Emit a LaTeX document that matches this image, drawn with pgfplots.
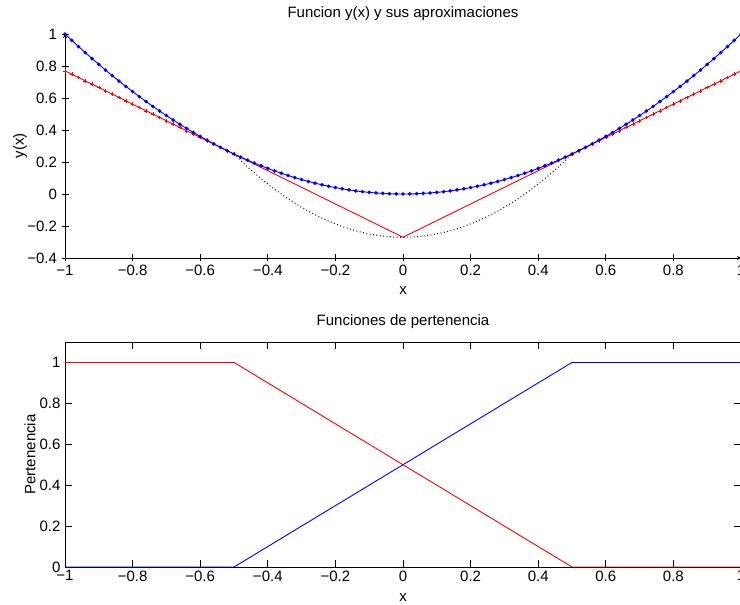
\documentclass[border=0pt]{standalone}
\usepackage{fontspec}
\setmainfont{Liberation Sans}
\usepackage{pgfplots}
\pgfplotsset{compat=1.18}
\usepackage{pgfplotstable}

% y(x) = x^2 sampled every 0.02
\pgfplotstableread{
x y
-1.00 1.0000
-0.98 0.9604
-0.96 0.9216
-0.94 0.8836
-0.92 0.8464
-0.90 0.8100
-0.88 0.7744
-0.86 0.7396
-0.84 0.7056
-0.82 0.6724
-0.80 0.6400
-0.78 0.6084
-0.76 0.5776
-0.74 0.5476
-0.72 0.5184
-0.70 0.4900
-0.68 0.4624
-0.66 0.4356
-0.64 0.4096
-0.62 0.3844
-0.60 0.3600
-0.58 0.3364
-0.56 0.3136
-0.54 0.2916
-0.52 0.2704
-0.50 0.2500
-0.48 0.2304
-0.46 0.2116
-0.44 0.1936
-0.42 0.1764
-0.40 0.1600
-0.38 0.1444
-0.36 0.1296
-0.34 0.1156
-0.32 0.1024
-0.30 0.0900
-0.28 0.0784
-0.26 0.0676
-0.24 0.0576
-0.22 0.0484
-0.20 0.0400
-0.18 0.0324
-0.16 0.0256
-0.14 0.0196
-0.12 0.0144
-0.10 0.0100
-0.08 0.0064
-0.06 0.0036
-0.04 0.0016
-0.02 0.0004
0.00 0.0000
0.02 0.0004
0.04 0.0016
0.06 0.0036
0.08 0.0064
0.10 0.0100
0.12 0.0144
0.14 0.0196
0.16 0.0256
0.18 0.0324
0.20 0.0400
0.22 0.0484
0.24 0.0576
0.26 0.0676
0.28 0.0784
0.30 0.0900
0.32 0.1024
0.34 0.1156
0.36 0.1296
0.38 0.1444
0.40 0.1600
0.42 0.1764
0.44 0.1936
0.46 0.2116
0.48 0.2304
0.50 0.2500
0.52 0.2704
0.54 0.2916
0.56 0.3136
0.58 0.3364
0.60 0.3600
0.62 0.3844
0.64 0.4096
0.66 0.4356
0.68 0.4624
0.70 0.4900
0.72 0.5184
0.74 0.5476
0.76 0.5776
0.78 0.6084
0.80 0.6400
0.82 0.6724
0.84 0.7056
0.86 0.7396
0.88 0.7744
0.90 0.8100
0.92 0.8464
0.94 0.8836
0.96 0.9216
0.98 0.9604
1.00 1.0000
}\curvedata

% local linear models (left part)
\pgfplotstableread{
x y
-1.00 0.7696
-0.98 0.7488
-0.96 0.7280
-0.94 0.7072
-0.92 0.6864
-0.90 0.6656
-0.88 0.6448
-0.86 0.6240
-0.84 0.6032
-0.82 0.5824
-0.80 0.5616
-0.78 0.5408
-0.76 0.5200
-0.74 0.4992
-0.72 0.4784
-0.70 0.4576
-0.68 0.4368
-0.66 0.4160
-0.64 0.3952
-0.62 0.3744
-0.60 0.3536
-0.58 0.3328
-0.56 0.3120
-0.54 0.2912
-0.52 0.2704
-0.50 0.2496
}\redleft

\pgfplotstableread{
x y
0.50 0.2496
0.52 0.2704
0.54 0.2912
0.56 0.3120
0.58 0.3328
0.60 0.3536
0.62 0.3744
0.64 0.3952
0.66 0.4160
0.68 0.4368
0.70 0.4576
0.72 0.4784
0.74 0.4992
0.76 0.5200
0.78 0.5408
0.80 0.5616
0.82 0.5824
0.84 0.6032
0.86 0.6240
0.88 0.6448
0.90 0.6656
0.92 0.6864
0.94 0.7072
0.96 0.7280
0.98 0.7488
1.00 0.7696
}\redright

% fuzzy combination in the blending zone
\pgfplotstableread{
x y
-0.50 0.2496
-0.48 0.2088
-0.46 0.1697
-0.44 0.1323
-0.42 0.0965
-0.40 0.0624
-0.38 0.0300
-0.36 -0.0008
-0.34 -0.0300
-0.32 -0.0574
-0.30 -0.0832
-0.28 -0.1073
-0.26 -0.1298
-0.24 -0.1506
-0.22 -0.1697
-0.20 -0.1872
-0.18 -0.2030
-0.16 -0.2172
-0.14 -0.2296
-0.12 -0.2404
-0.10 -0.2496
-0.08 -0.2571
-0.06 -0.2629
-0.04 -0.2671
-0.02 -0.2696
0.00 -0.2704
0.02 -0.2696
0.04 -0.2671
0.06 -0.2629
0.08 -0.2571
0.10 -0.2496
0.12 -0.2404
0.14 -0.2296
0.16 -0.2172
0.18 -0.2030
0.20 -0.1872
0.22 -0.1697
0.24 -0.1506
0.26 -0.1298
0.28 -0.1073
0.30 -0.0832
0.32 -0.0574
0.34 -0.0300
0.36 -0.0008
0.38 0.0300
0.40 0.0624
0.42 0.0965
0.44 0.1323
0.46 0.1697
0.48 0.2088
0.50 0.2496
}\fuzzydata

\begin{document}
\begin{tikzpicture}
\pgfplotsset{
  mstyle/.style={
    scale only axis,
    width=676pt,
    xmin=-1, xmax=1,
    font=\fontsize{15}{18}\selectfont,
    tick label style={font=\fontsize{15}{18}\selectfont},
    /pgf/number format/assume math mode=true,
    axis line style={-, line width=0.8pt, black},
    major tick style={line width=0.8pt, black},
    major tick length=7pt,
    tick align=inside,
    clip=false,
    xtick={-1,-0.8,-0.6,-0.4,-0.2,0,0.2,0.4,0.6,0.8,1},
    xticklabels={−1,−0.8,−0.6,−0.4,−0.2,0,0.2,0.4,0.6,0.8,1},
    title style={at={(0.5,1)}, anchor=south, yshift=4pt},
    yticklabel style={xshift=-1pt},
  }
}
\begin{axis}[mstyle,
  at={(65pt,347pt)}, anchor=south west,
  height=224pt,
  ymin=-0.4, ymax=1,
  axis x line=bottom, axis y line=left,
  ytick={-0.4,-0.2,0,0.2,0.4,0.6,0.8,1},
  yticklabels={−0.4,−0.2,0,0.2,0.4,0.6,0.8,1},
  title={Funcion y(x) y sus aproximaciones},
  xlabel={x}, xlabel style={at={(axis description cs:0.5,-0.1473)}, anchor=center},
  ylabel={y(x)}, ylabel style={at={(axis description cs:-0.0666,0.5)}, anchor=center},
]
\addplot[red, line width=0.9pt, mark=+, mark size=1.8pt, mark options={line width=0.5pt}] table {\redleft};
\addplot[red, line width=0.9pt, mark=+, mark size=1.8pt, mark options={line width=0.5pt}] table {\redright};
\addplot[red, line width=0.9pt] coordinates {(-0.5,0.2496) (0,-0.2704) (0.5,0.2496)};
\addplot[black, line width=1.1pt, dash pattern=on 0.8pt off 2.6pt] table {\fuzzydata};
\addplot[blue, line width=0.9pt, mark=*, mark size=1.35pt] table {\curvedata};
\end{axis}

\begin{axis}[mstyle,
  at={(65pt,38pt)}, anchor=south west,
  height=225pt,
  ymin=0, ymax=1.1,
  ytick={0,0.2,0.4,0.6,0.8,1},
  yticklabels={0,0.2,0.4,0.6,0.8,1},
  title={Funciones de pertenencia},
  xlabel={x}, xlabel style={at={(axis description cs:0.5,-0.1378)}, anchor=center},
  ylabel={Pertenencia}, ylabel style={at={(axis description cs:-0.0518,0.5)}, anchor=center},
]
\addplot[red, line width=0.9pt] coordinates {(-1,1) (-0.5,1) (0.5,0) (1,0)};
\addplot[blue, line width=0.9pt] coordinates {(-1,0) (-0.5,0) (0.5,1) (1,1)};
\end{axis}
\pgfresetboundingbox
\path[use as bounding box] (0,0) rectangle (740pt,605pt);
\end{tikzpicture}
\end{document}
